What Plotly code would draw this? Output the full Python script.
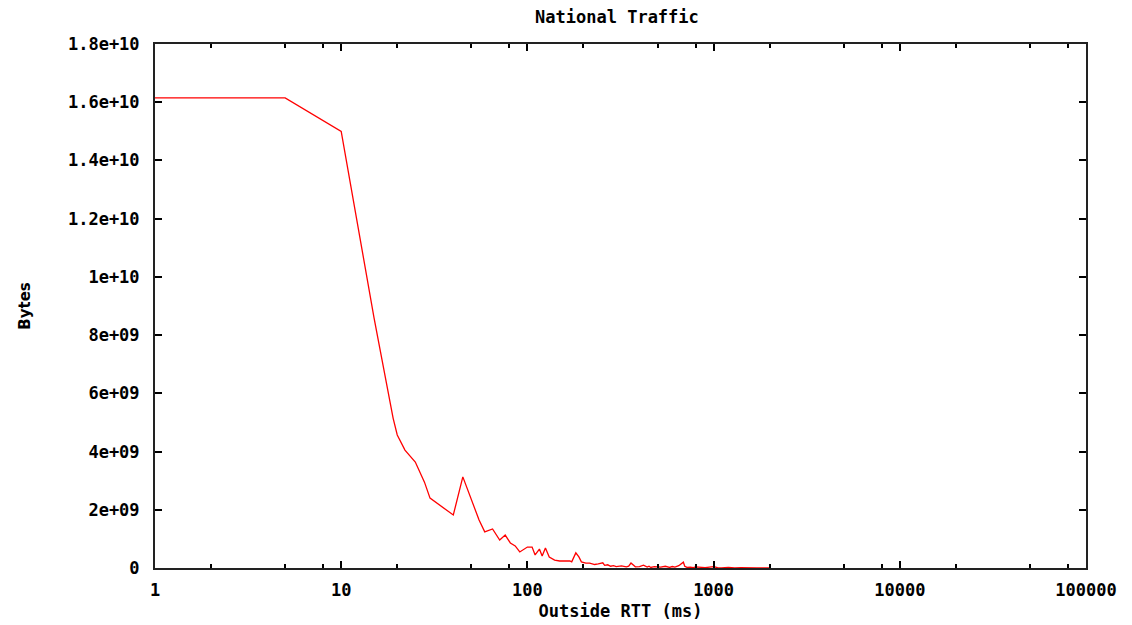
import plotly.graph_objects as go

# Outside RTT (ms)
rtt = [1, 5, 10, 11, 12, 13, 14, 15, 16, 17, 18, 19, 20, 22, 25, 28, 30, 40, 45, 50,
       55, 59, 65, 71, 76, 81, 86, 91, 100, 106, 110, 116, 120, 125, 131, 140, 149,
       169, 173, 182, 189, 195, 206, 216,
       230, 240, 254, 260, 270, 280, 290, 300, 320, 340, 350, 360, 380, 400, 420,
       440, 450, 460, 480, 500, 520, 550, 580, 600, 620, 650, 688, 700, 720, 750,
       780, 800, 850, 900, 950, 1000, 1050, 1100, 1200, 1300, 1400, 1500, 1600,
       1700, 1800, 1900, 2000]
# Bytes, in units of 1e9
bytes_e9 = [16.15, 16.15, 15.0, 13.5, 12.1, 10.8, 9.6, 8.6, 7.66, 6.8, 5.95, 5.15, 4.57,
            4.05, 3.64, 2.95, 2.40, 1.82, 3.13, 2.34,
            1.65, 1.24, 1.34, 0.96, 1.13, 0.86, 0.76, 0.55, 0.72, 0.72, 0.45, 0.65, 0.41,
            0.69, 0.38, 0.27, 0.24,
            0.24, 0.21, 0.52, 0.38, 0.21, 0.17, 0.17,
            0.12, 0.14, 0.18, 0.09, 0.11, 0.06, 0.08, 0.05, 0.07, 0.04, 0.06, 0.17, 0.04,
            0.05, 0.10, 0.03, 0.06, 0.02, 0.05, 0.04, 0.03, 0.06, 0.02, 0.05, 0.03, 0.08,
            0.20, 0.06, 0.02, 0.03, 0.01, 0.04, 0.02, 0.01, 0.03, 0.05, 0.01, 0.0, 0.02,
            0.0, 0.01, 0.0, 0.01, 0.0, 0.0, 0.01, 0.0]

x_tickvals = [1, 10, 100, 1000, 10000, 100000]
x_ticktext = ["1", "10", "100", "1000", "10000", "100000"]
x_minor = [m * 10 ** d for d in range(5) for m in (2, 5, 8)]
y_tickvals = [0, 2e9, 4e9, 6e9, 8e9, 1e10, 1.2e10, 1.4e10, 1.6e10, 1.8e10]
y_ticktext = ["0", "2e+09", "4e+09", "6e+09", "8e+09", "1e+10", "1.2e+10",
              "1.4e+10", "1.6e+10", "1.8e+10"]

fig = go.Figure()
fig.add_trace(go.Scatter(
    x=rtt, y=[v * 1e9 for v in bytes_e9], mode="lines",
    line=dict(color="#ff0000", width=1.3), showlegend=False,
))

mono = dict(family="DejaVu Sans Mono", size=17, color="black", weight="bold")

fig.update_layout(
    width=1132, height=625,
    margin=dict(l=155, r=46, t=44, b=57, autoexpand=False),
    paper_bgcolor="white", plot_bgcolor="white",
    title=dict(text="National Traffic", x=0.545, xanchor="center", y=0.972,
               yanchor="middle", font=mono),
)
fig.update_xaxes(
    type="log", range=[0, 5], tickvals=x_tickvals, ticktext=x_ticktext,
    ticks="inside", ticklen=7, tickwidth=1.5, tickcolor="black",
    mirror="ticks", showline=True, linecolor="#222", linewidth=2,
    showgrid=False, zeroline=False, tickfont=mono, ticklabelstandoff=6,
    minor=dict(tickvals=x_minor, ticks="inside", ticklen=4, tickwidth=1.5,
               tickcolor="black", showgrid=False),
    title=dict(text="Outside RTT (ms)", font=mono, standoff=6),
)
fig.update_yaxes(
    range=[0, 1.8e10], tickvals=y_tickvals, ticktext=y_ticktext,
    ticks="inside", ticklen=7, tickwidth=1.5, tickcolor="black",
    mirror="ticks", showline=True, linecolor="#222", linewidth=2,
    showgrid=False, zeroline=False, tickfont=mono, ticklabelstandoff=10,
    title=dict(text="Bytes", font=dict(family="DejaVu Sans", size=15, color="black",
                                       weight="bold"),
               standoff=34),
)

fig.write_html("out.html")
